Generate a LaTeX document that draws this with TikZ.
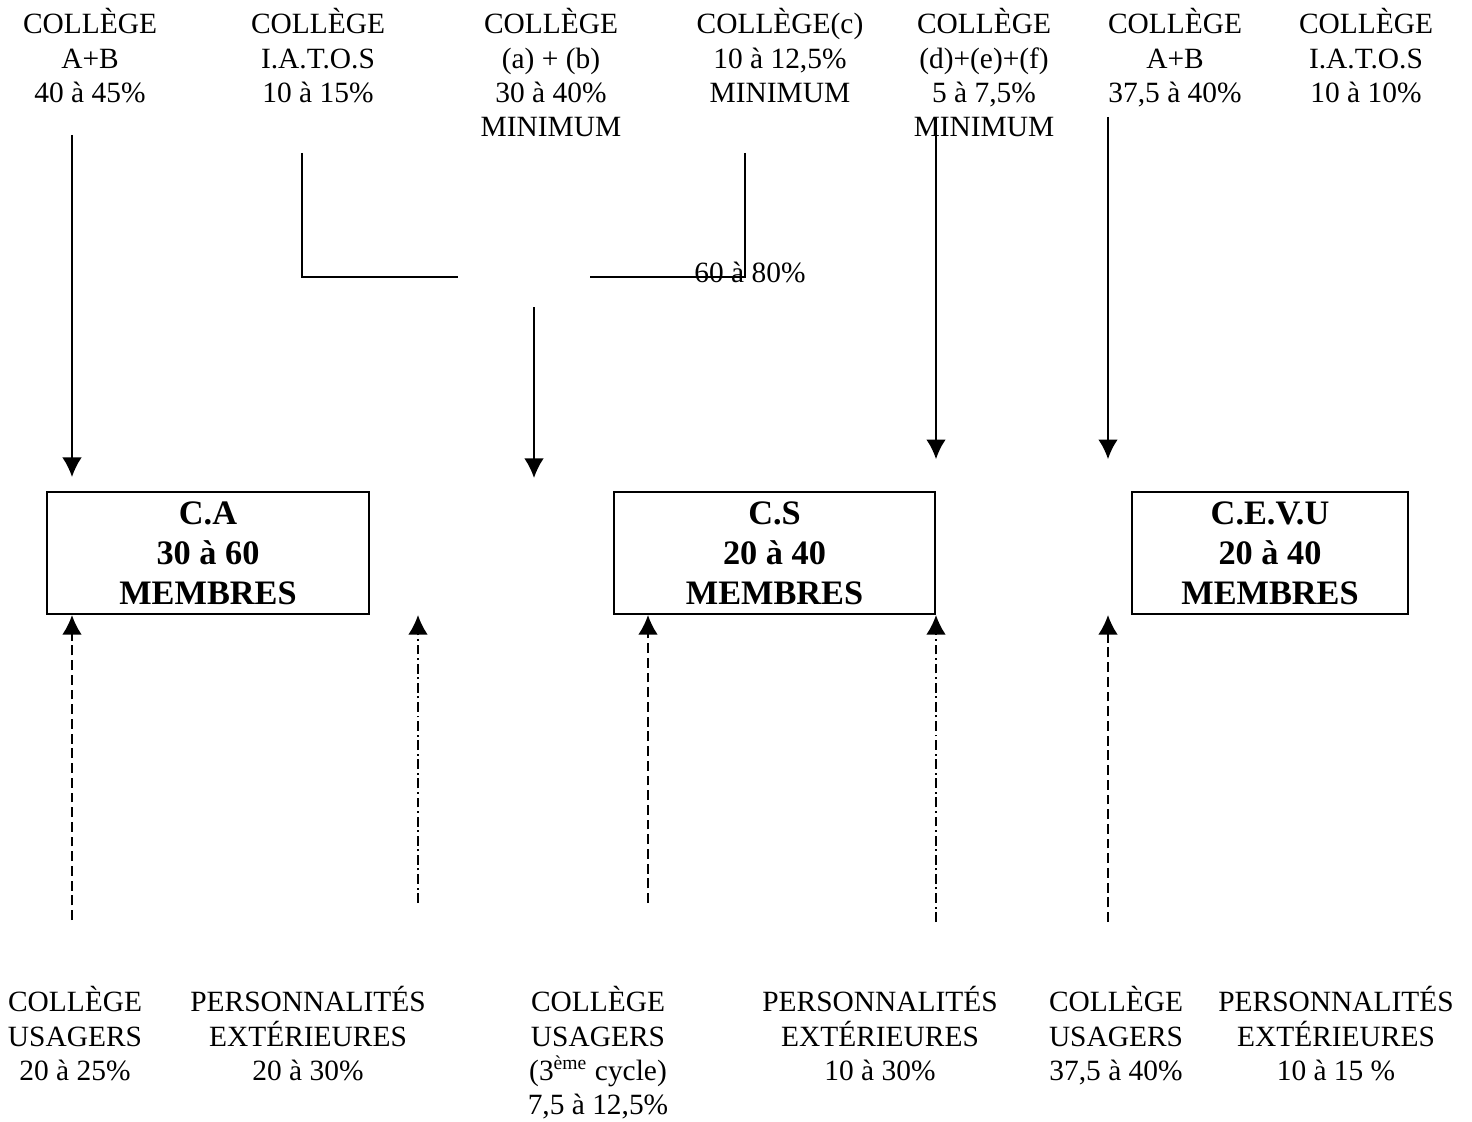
\documentclass[tikz,border=0pt]{standalone}
\usepackage{fontspec}
\setmainfont{Liberation Serif}
\usetikzlibrary{positioning, arrows.meta}

\begin{document}
\begin{tikzpicture}[x=0.408pt, y=-0.408pt,
        college/.style={align=center, inner sep=0pt, anchor=north, font=\fontsize{12}{14}\selectfont},
        conseil/.style={draw, line width=0.8pt, rectangle, minimum height=49.8pt, align=center, font=\fontsize{14}{16.3}\selectfont\bfseries},
        flux/.style={line width=0.8pt},
        tiret/.style={flux, dash pattern=on 4pt off 2pt},
        mixte/.style={flux, dash pattern=on 4pt off 1.5pt on 0.8pt off 1.5pt},
        >={Latex[length=8pt, width=8pt]}]

        \useasboundingbox (0,0) rectangle (1472,1122);

        % Colleges du haut
        \node (hAB) [college] at (90,8) {COLLÈGE\\A+B\\40 à 45\%};
        \node (hIatos) [college] at (318,8) {COLLÈGE\\I.A.T.O.S\\10 à 15\%};
        \node (hAb) [college] at (551,8) {COLLÈGE\\(a) + (b)\\30 à 40\%\\MINIMUM};
        \node (hC) [college] at (780,8) {COLLÈGE(c)\\10 à 12,5\%\\MINIMUM};
        \node (hDef) [college] at (984,8) {COLLÈGE\\(d)+(e)+(f)\\5 à 7,5\%\\MINIMUM};
        \node (hAB2) [college] at (1175,8) {COLLÈGE\\A+B\\37,5 à 40\%};
        \node (hIatos2) [college] at (1366,8) {COLLÈGE\\I.A.T.O.S\\10 à 10\%};

        % Conseils
        \node (ca) [conseil, minimum width=131.4pt] at (208,553) {C.A\\30 à 60\\MEMBRES};
        \node (cs) [conseil, minimum width=131pt] at (774.5,553) {C.S\\20 à 40\\MEMBRES};
        \node (cevu) [conseil, minimum width=112.6pt] at (1270,553) {C.E.V.U\\20 à 40\\MEMBRES};

        % Colleges du bas
        \node (bUsa) [college] at (75,986) {COLLÈGE\\USAGERS\\20 à 25\%};
        \node (bPers) [college] at (308,986) {PERSONNALITÉS\\EXTÉRIEURES\\20 à 30\%};
        \node (bUsa2) [college] at (598,986) {COLLÈGE\\USAGERS\\(3\textsuperscript{ème} cycle)\\7,5 à 12,5\%};
        \node (bPers2) [college] at (880,986) {PERSONNALITÉS\\EXTÉRIEURES\\10 à 30\%};
        \node (bUsa3) [college] at (1116,986) {COLLÈGE\\USAGERS\\37,5 à 40\%};
        \node (bPers3) [college] at (1336,986) {PERSONNALITÉS\\EXTÉRIEURES\\10 à 15 \%};

        % Regroupement 60 a 80%
        \coordinate (gIatos) at (302,153);
        \coordinate (gG) at (458,277);
        \coordinate (gC) at (745,153);
        \coordinate (gD) at (590,277);
        \coordinate (gBas) at (534,307);
        \node (total) [anchor=base, inner sep=0pt, font=\fontsize{12}{14}\selectfont] at (750,283) {60 à 80\%};

        \draw[flux] (gIatos) |- (gG);
        \draw[flux] (gC) |- (gD);
        \draw[flux, ->] (gBas) -- (534,478);

        % Fleches du haut
        \coordinate (fAB) at (72,135);
        \coordinate (fDef) at (936,118);
        \coordinate (fAB2) at (1108,117);
        \draw[flux, ->, shorten >=5.7pt] (fAB) -- (fAB |- ca.north);
        \draw[flux, ->, shorten >=13pt] (fDef) -- (fDef |- cs.north);
        \draw[flux, ->, shorten >=13pt] (fAB2) -- (fAB2 |- cevu.north);

        % Fleches du bas
        \coordinate (fUsa) at (72,920);
        \coordinate (fPers) at (418,903);
        \coordinate (fUsa2) at (648,903);
        \coordinate (fPers2) at (936,922);
        \coordinate (fUsa3) at (1108,922);
        \draw[tiret, ->] (fUsa) -- (fUsa |- ca.south);
        \draw[mixte, ->] (fPers) -- (fPers |- ca.south);
        \draw[tiret, ->] (fUsa2) -- (fUsa2 |- cs.south);
        \draw[mixte, ->] (fPers2) -- (fPers2 |- cs.south);
        \draw[tiret, ->] (fUsa3) -- (fUsa3 |- cevu.south);
\end{tikzpicture}
\end{document}
